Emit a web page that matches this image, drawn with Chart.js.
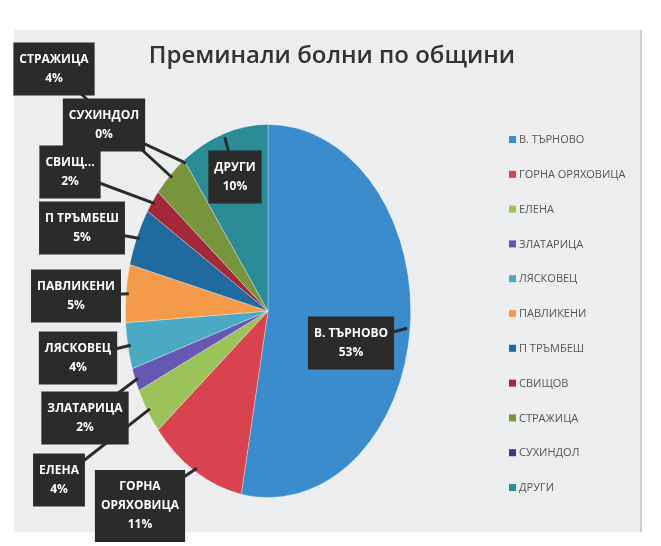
<!DOCTYPE html>
<html>
<head>
<meta charset="utf-8">
<title>Преминали болни по общини</title>
<script src="https://cdn.jsdelivr.net/npm/chart.js@4.4.0/dist/chart.umd.min.js"></script>
<style>
    html, body { margin: 0; padding: 0; background: #ffffff; }
    #wrap { position: relative; width: 661px; height: 546px; overflow: hidden; }
    #panel { position: absolute; left: 14px; top: 30px; width: 628px; height: 502px; background: #eceef0; }
    #panel-right { position: absolute; left: 640px; top: 30px; width: 2px; height: 502px; background: #c9ccd0; }
    canvas { position: absolute; left: 0; top: 0; }
</style>
</head>
<body>
<div id="wrap">
    <div id="panel"></div>
    <div id="panel-right"></div>
    <canvas id="chart" width="661" height="546"></canvas>
</div>
<script>
// Data
const municipalities = ['В. ТЪРНОВО', 'ГОРНА ОРЯХОВИЦА', 'ЕЛЕНА', 'ЗЛАТАРИЦА', 'ЛЯСКОВЕЦ',
    'ПАВЛИКЕНИ', 'П ТРЪМБЕШ', 'СВИЩОВ', 'СТРАЖИЦА', 'СУХИНДОЛ', 'ДРУГИ'];
const shares = [53, 11, 4, 2, 4, 5, 5, 2, 4, 0, 10];
// callout text as shown on the slide (СВИЩОВ is cut off there)
const calloutNames = [['В. ТЪРНОВО'], ['ГОРНА', 'ОРЯХОВИЦА'], ['ЕЛЕНА'], ['ЗЛАТАРИЦА'], ['ЛЯСКОВЕЦ'],
    ['ПАВЛИКЕНИ'], ['П ТРЪМБЕШ'], ['СВИЩ...'], ['СТРАЖИЦА'], ['СУХИНДОЛ'], ['ДРУГИ']];

// Styles / layout
const sliceColors = ['#3a8ccc', '#d8434f', '#9cc35a', '#6658b2', '#4aaac4',
    '#f59a48', '#1f6ba0', '#a2283a', '#76953c', '#3f3684', '#2b8b96'];
const calloutCenters = [[351, 343], [140, 506], [59, 480], [85, 418], [78, 358],
    [76, 296], [82, 228], [70, 172], [54, 69], [104, 125], [235, 177]];
const squash = 0.765;   // photo is taken at an angle, pie looks like an ellipse

const ellipsePlugin = {
    id: 'ellipse',
    beforeDatasetsDraw(chart) {
        const arc = chart.getDatasetMeta(0).data[0];
        const ctx = chart.ctx;
        ctx.save();
        ctx.translate(arc.x, arc.y);
        ctx.scale(squash, 1);
        ctx.translate(-arc.x, -arc.y);
    },
    afterDatasetsDraw(chart) {
        chart.ctx.restore();
    }
};

const decorPlugin = {
    id: 'decor',
    afterDraw(chart) {
        const ctx = chart.ctx;
        const meta = chart.getDatasetMeta(0);
        ctx.save();

        // title
        ctx.fillStyle = '#333333';
        ctx.font = '600 24px "Open Sans"';
        ctx.textAlign = 'center';
        ctx.textBaseline = 'middle';
        ctx.fillText('Преминали болни по общини', 332, 56);

        // legend
        ctx.font = '11px "Open Sans"';
        ctx.textAlign = 'left';
        chart.data.labels.forEach((name, i) => {
            const y = 140 + i * 34.8;
            ctx.fillStyle = sliceColors[i];
            ctx.fillRect(509, y - 4, 7, 7);
            ctx.fillStyle = '#555555';
            ctx.fillText(name, 519, y);
        });

        // callouts
        ctx.font = 'bold 12px "Open Sans"';
        ctx.textAlign = 'center';
        meta.data.forEach((arc, i) => {
            const [cx, cy] = calloutCenters[i];
            const a = (arc.startAngle + arc.endAngle) / 2;
            const tx = arc.x + Math.cos(a) * arc.outerRadius * squash * 0.98;
            const ty = arc.y + Math.sin(a) * arc.outerRadius * 0.98;

            const lines = calloutNames[i].concat([shares[i] + '%']);
            const w = Math.max(...lines.map(l => ctx.measureText(l).width)) + 12;
            const h = lines.length * 19 + 15;

            ctx.strokeStyle = '#2b2b2b';
            ctx.lineWidth = 3;
            ctx.beginPath();
            ctx.moveTo(cx, cy);
            ctx.lineTo(tx, ty);
            ctx.stroke();

            ctx.fillStyle = '#2b2b2b';
            ctx.fillRect(cx - w / 2, cy - h / 2, w, h);

            ctx.fillStyle = '#ffffff';
            lines.forEach((l, k) => {
                ctx.fillText(l, cx, cy - h / 2 + 17 + k * 19);
            });
        });
        ctx.restore();
    }
};

const chart = new Chart(document.getElementById('chart'), {
    type: 'pie',
    data: {
        labels: municipalities,
        datasets: [{
            data: shares,
            backgroundColor: sliceColors,
            borderColor: 'rgba(255, 255, 255, 0.35)',
            borderWidth: 1
        }]
    },
    options: {
        responsive: false,
        animation: false,
        layout: {
            padding: { left: 81, right: 206, top: 124, bottom: 48 }
        },
        plugins: {
            legend: { display: false },
            title: { display: false },
            tooltip: { enabled: false }
        }
    },
    plugins: [ellipsePlugin, decorPlugin]
});
</script>
</body>
</html>
